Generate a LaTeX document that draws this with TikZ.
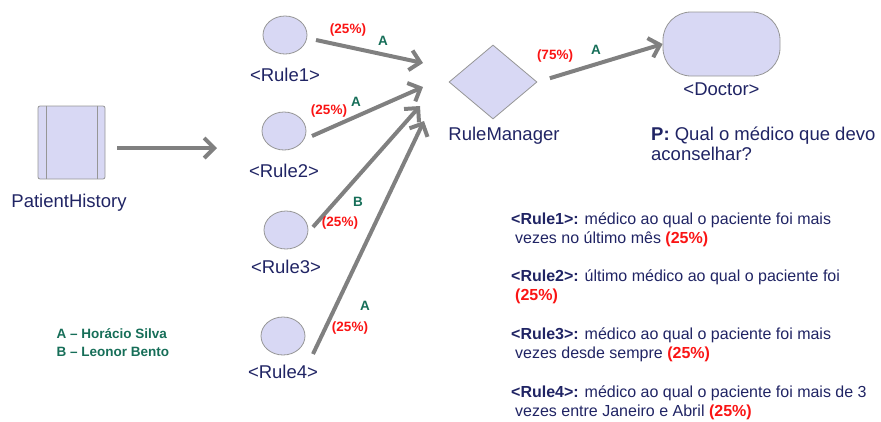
\documentclass[tikz,border=0pt]{standalone}
\usepackage{fontspec}
\setmainfont{Liberation Sans}
\usetikzlibrary{shapes.geometric,arrows.meta,calc}

\definecolor{navy}{RGB}{32,36,100}
\definecolor{lav}{RGB}{216,216,244}
\definecolor{rim}{RGB}{150,150,150}
\definecolor{flowgray}{RGB}{128,128,128}
\definecolor{pctred}{RGB}{250,20,20}
\definecolor{whogreen}{RGB}{22,110,88}

\begin{document}
\begin{tikzpicture}[
  x=1pt, y=-1pt,
  shp/.style={draw=rim, fill=lav, line width=0.8pt, inner sep=0pt},
  rule/.style={shp, ellipse, minimum width=44pt, minimum height=38pt},
  lbl/.style={text=navy, font=\fontsize{18.5}{20}\selectfont},
  desc/.style={text=navy, font=\fontsize{16}{18.5}\selectfont, align=left, anchor=north west, inner sep=0pt},
  pct/.style={text=pctred, font=\fontsize{13.5}{15}\selectfont\bfseries},
  who/.style={text=whogreen, font=\fontsize{13.5}{18}\selectfont\bfseries},
  flow/.style={draw=flowgray, line width=4pt, -{Straight Barb[length=10pt,width=20pt]}},
  node distance=40pt
]
\useasboundingbox (0,0) rectangle (881,421);

% Patient history
\node[shp, rounded corners=2pt, minimum width=67pt, minimum height=73pt] (ph) at (71.5,142.5) {};
\draw[rim, line width=0.8pt] ($(ph.north west)+(8.5,0)$) -- ($(ph.south west)+(8.5,0)$);
\draw[rim, line width=0.8pt] ($(ph.north east)+(-8.5,0)$) -- ($(ph.south east)+(-8.5,0)$);
\node[lbl] (phlbl) at (69,203) {PatientHistory};
\coordinate (feed) at (217,148);
\draw[flow] ([xshift=12pt,yshift=-5.5pt]ph.east) -- (feed);

% Rules
\node[rule] (r1) at (285,35) {};
\node[lbl, below of=r1] (r1lbl) {<Rule1>};
\node[rule] (r2) at (284,131) {};
\node[lbl, below of=r2] (r2lbl) {<Rule2>};
\node[rule] (r3) at (286,230) {};
\node[lbl, below of=r3, node distance=37pt] (r3lbl) {<Rule3>};
\node[rule] (r4) at (283,336) {};
\node[lbl, below of=r4, node distance=36pt] (r4lbl) {<Rule4>};

% Rule manager
\node[shp, diamond, minimum width=88pt, minimum height=74pt] (rm) at (493,82) {};
\node[lbl] (rmlbl) at (504,136) {RuleManager};

% Doctor
\node[shp, rounded corners=28pt, minimum width=117pt, minimum height=64pt] (doc) at (721.5,44) {};
\node[lbl, below of=doc, node distance=45pt] (doclbl) {<Doctor>};
\node[lbl, align=left, anchor=north west, inner sep=0pt] (q) at (651,127) {\textbf{P:} Qual o médico que devo\\aconselhar?};

% Arrows into the manager
\coordinate (r1out) at (316,40);  \coordinate (t1) at (423,63);
\coordinate (r2out) at (312,136); \coordinate (t2) at (423,87);
\coordinate (r3out) at (313,227); \coordinate (t3) at (420,106);
\coordinate (r4out) at (313,354); \coordinate (t4) at (424,121);
\draw[flow] (r1out) -- (t1);
\draw[flow] (r2out) -- (t2);
\draw[flow] (r3out) -- (t3);
\draw[flow] (r4out) -- (t4);
\draw[flow, shorten <=13pt] (rm.east) -- (doc.west);

% Weights and authors
\node[pct] (w1) at (348,30) {(25\%)};
\node[who] (a1) at (383,41) {A};
\node[pct] (w2) at (329,111) {(25\%)};
\node[who] (a2) at (356,102) {A};
\node[who] (a3) at (358,202) {B};
\node[pct] (w3) at (340,223) {(25\%)};
\node[who] (a4) at (365,306) {A};
\node[pct] (w4) at (350,328) {(25\%)};
\node[pct] (w5) at (555,56) {(75\%)};
\node[who] (a5) at (596,50) {A};

% Legend
\node[who, align=left, anchor=west] (legend) at (53,343) {A – Horácio Silva\\B – Leonor Bento};

% Rule descriptions
\node[desc] (d1) at (511,213) {\textbf{<Rule1>:} médico ao qual o paciente foi mais\\\hspace*{4pt}vezes no último mês \textcolor{pctred}{\textbf{(25\%)}}};
\node[desc] (d2) at (511,270) {\textbf{<Rule2>:} último médico ao qual o paciente foi\\\hspace*{4pt}\textcolor{pctred}{\textbf{(25\%)}}};
\node[desc] (d3) at (511,328) {\textbf{<Rule3>:} médico ao qual o paciente foi mais\\\hspace*{4pt}vezes desde sempre \textcolor{pctred}{\textbf{(25\%)}}};
\node[desc] (d4) at (511,386) {\textbf{<Rule4>:} médico ao qual o paciente foi mais de 3\\\hspace*{4pt}vezes entre Janeiro e Abril \textcolor{pctred}{\textbf{(25\%)}}};

\end{tikzpicture}
\end{document}
